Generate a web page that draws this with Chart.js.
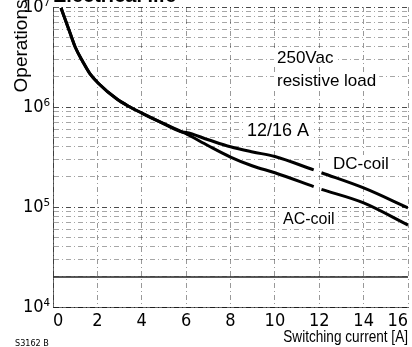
<!DOCTYPE html>
<html>
<head>
<meta charset="utf-8">
<script src="https://cdn.jsdelivr.net/npm/chart.js@4/dist/chart.umd.min.js"></script>
<style>
  html, body { margin: 0; padding: 0; background: #fff; }
  #wrap { width: 412px; height: 347px; }
</style>
</head>
<body>
<div id="wrap"><canvas id="chart"></canvas></div>
<script>
// shared part of both curves (before they split near 6 A)
const commonCurrent = [0.36, 0.77, 1.0, 1.35, 1.67, 2.03, 2.88, 3.47, 4.0, 4.82, 5.85]
const commonOps = [9.8e6, 5.5e6, 3.98e6, 2.82e6, 2.14e6, 1.74e6, 1.2e6, 1.0e6, 8.7e5, 7.1e5, 5.6e5]

// null = the small break in the printed curves at 12 A
const dcCurrent = [6, 7, 8, 9, 10, 11.75, 11.9, 12.1, 14, 16]
const dcOps = [5.56e5, 4.7e5, 4.0e5, 3.55e5, 3.2e5, 2.35e5, null, 2.2e5, 1.55e5, 9.8e4]
const acCurrent = [6, 7, 8, 9, 10, 11.75, 11.9, 12.1, 14, 16]
const acOps = [5.4e5, 4.1e5, 3.16e5, 2.57e5, 2.2e5, 1.6e5, null, 1.5e5, 1.1e5, 6.6e4]

const refLineCurrent = [0, 16]
const refLineOps = [2e4, 2e4]

const xTicks = [0, 2, 4, 6, 8, 10, 12, 14, 16]
const yTicks = [1e4, 1e5, 1e6, 1e7]
const yTickLabels = ['10⁴', '10⁵', '10⁶', '10⁷']

const narrow = "'Liberation Sans Narrow', 'DejaVu Sans Condensed', sans-serif"
const regular = "'Liberation Sans', Arial, sans-serif"

const toPoints = (xs, ys) => xs.map((x, i) => ({ x: x, y: ys[i] }))

const textPlugin = {
  id: 'texts',
  afterDraw(chart) {
    const ctx = chart.ctx
    ctx.save()
    ctx.fillStyle = '#000'

    // title, cut off at the top edge like the scan
    ctx.font = "bold 20px " + regular
    ctx.textAlign = 'left'
    ctx.textBaseline = 'alphabetic'
    ctx.fillText('Electrical life', 53, 2)

    // y axis title
    ctx.save()
    ctx.translate(27, 46)
    ctx.rotate(-Math.PI / 2)
    ctx.font = "19px " + regular
    ctx.textAlign = 'center'
    ctx.fillText('Operations', 0, 0)
    ctx.restore()

    // x axis title, squeezed like the condensed print face
    ctx.save()
    ctx.translate(408, 342)
    ctx.scale(0.8, 1)
    ctx.font = "17px " + regular
    ctx.textAlign = 'right'
    ctx.fillText('Switching current [A]', 0, 0)
    ctx.restore()

    ctx.font = "9px " + narrow
    ctx.textAlign = 'left'
    ctx.fillText('S3162 B', 15, 346)

    // labels inside the plot, with white boxes over the grid
    const boxed = (txt, x, y, font) => {
      ctx.font = font
      const w = ctx.measureText(txt).width
      ctx.fillStyle = '#fff'
      ctx.fillRect(x - 3, y - 14, w + 6, 18)
      ctx.fillStyle = '#000'
      ctx.fillText(txt, x, y)
    }
    ctx.textAlign = 'left'
    boxed('250Vac', 277, 63, "17px " + regular)
    boxed('resistive load', 277, 86, "17px " + regular)
    boxed('12/16 A', 247, 136, "18px " + regular)
    boxed('DC-coil', 333, 169, "17px " + regular)
    boxed('AC-coil', 283, 224, "16px " + regular)
    ctx.restore()
  }
}

new Chart(document.getElementById('chart'), {
  type: 'line',
  data: {
    datasets: [
      {
        label: 'DC-coil',
        data: toPoints(commonCurrent.concat(dcCurrent), commonOps.concat(dcOps)),
        borderColor: '#000',
        borderWidth: 3,
        pointRadius: 0,
        cubicInterpolationMode: 'monotone',
        spanGaps: false
      },
      {
        label: 'AC-coil',
        data: toPoints(commonCurrent.concat(acCurrent), commonOps.concat(acOps)),
        borderColor: '#000',
        borderWidth: 3,
        pointRadius: 0,
        cubicInterpolationMode: 'monotone',
        spanGaps: false
      },
      {
        label: 'ref',
        data: toPoints(refLineCurrent, refLineOps),
        borderColor: '#222',
        borderWidth: 1.5,
        pointRadius: 0
      }
    ]
  },
  options: {
    responsive: true,
    maintainAspectRatio: false,
    animation: false,
    layout: { padding: { top: 7, right: 4, left: 0, bottom: 0 } },
    plugins: {
      legend: { display: false },
      tooltip: { enabled: false }
    },
    scales: {
      x: {
        type: 'linear',
        min: 0,
        max: 16,
        afterFit: (scale) => {
          scale.height = 40
          scale.paddingLeft = 0
          scale.paddingRight = 0
        },
        afterBuildTicks: (scale) => { scale.ticks = xTicks.map(v => ({ value: v })) },
        ticks: {
          padding: 4,
          align: 'inner',
          color: '#000',
          font: { family: narrow, size: 18 }
        },
        grid: {
          drawTicks: false,
          color: 'rgba(0,0,0,0.4)',
          lineWidth: 1
        },
        border: { display: true, color: 'rgba(0,0,0,0.6)', dash: [5, 3, 1, 3] }
      },
      y: {
        type: 'logarithmic',
        min: 1e4,
        max: 1e7,
        afterFit: (scale) => {
          scale.width = 53
          scale.paddingTop = 0
          scale.paddingBottom = 0
        },
        afterBuildTicks: (scale) => {
          const t = []
          yTicks.forEach(d => {
            for (let k = 1; k < 10; k++) {
              if (d * k <= 1e7) t.push({ value: d * k })
            }
          })
          scale.ticks = t
        },
        ticks: {
          padding: 3,
          color: '#000',
          font: { family: narrow, size: 18 },
          autoSkip: false,
          callback: (v) => {
            const i = yTicks.indexOf(v)
            return i >= 0 ? yTickLabels[i] : ''
          }
        },
        grid: {
          drawTicks: false,
          color: (c) => yTicks.indexOf(c.tick.value) >= 0 ? 'rgba(0,0,0,0.7)' : 'rgba(0,0,0,0.35)',
          lineWidth: 1
        },
        border: { display: true, color: 'rgba(0,0,0,0.6)', dash: [5, 3, 1, 3] }
      }
    }
  },
  plugins: [textPlugin]
})
</script>
</body>
</html>
